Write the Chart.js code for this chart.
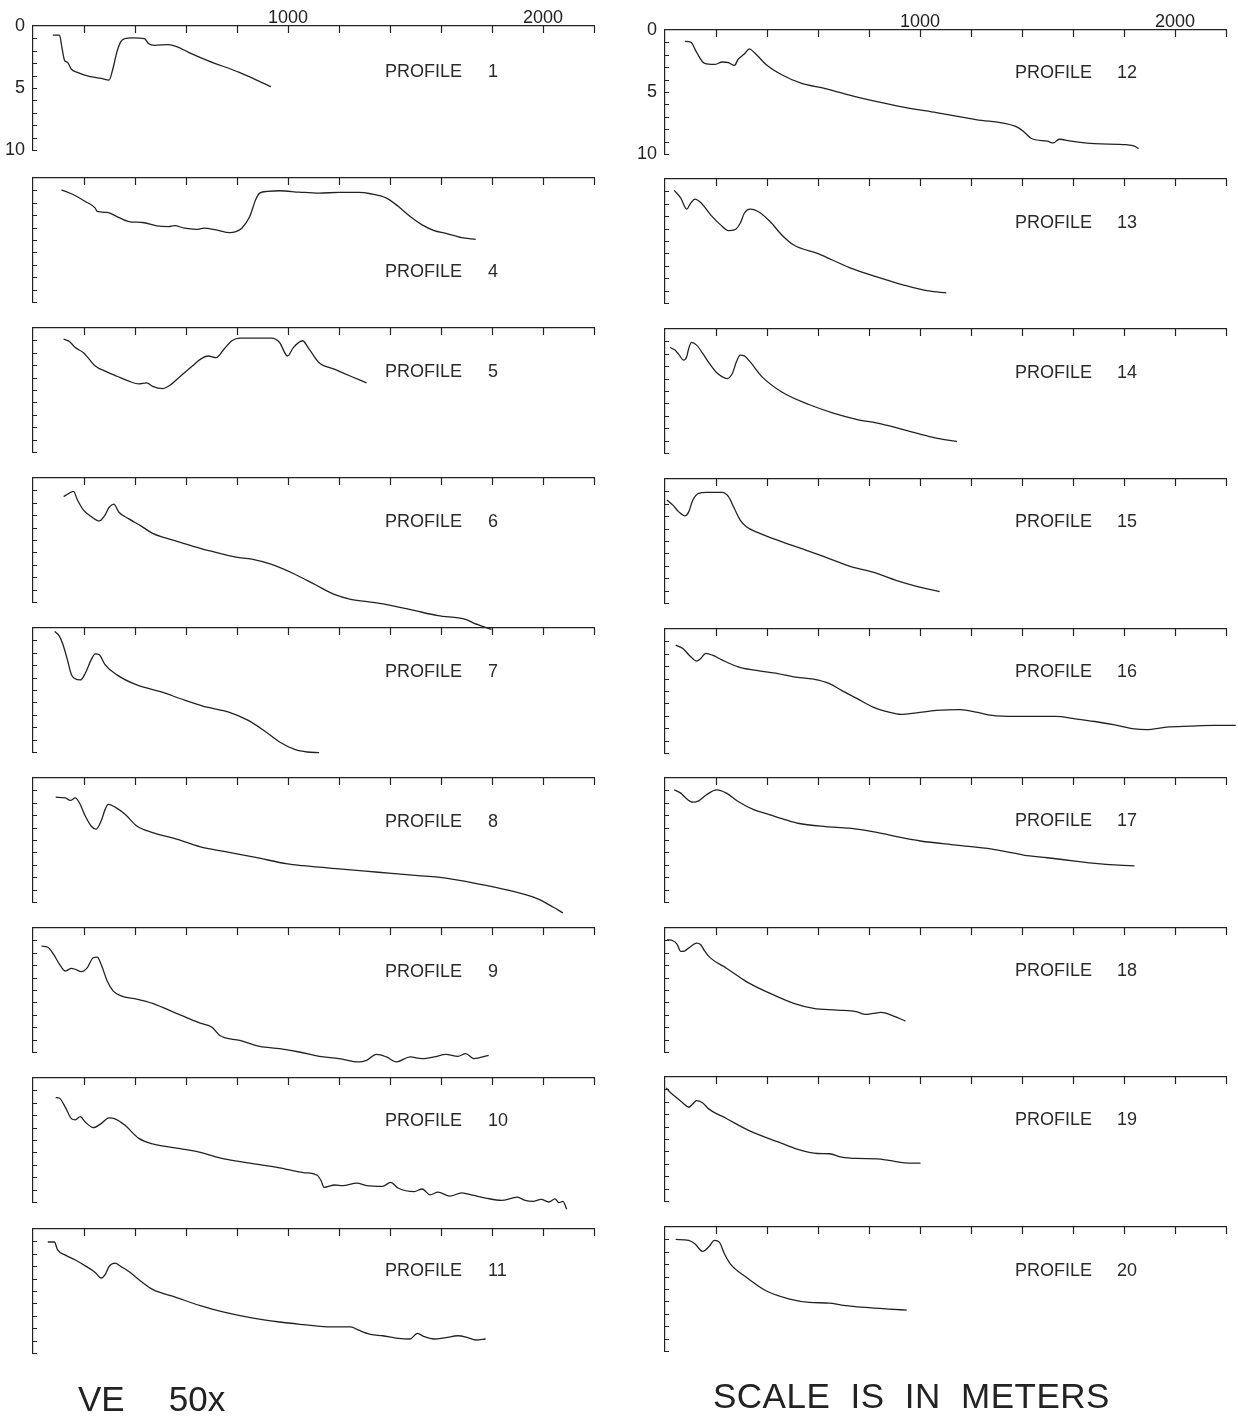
<!DOCTYPE html>
<html><head><meta charset="utf-8">
<script src="https://cdn.jsdelivr.net/npm/chart.js@4.4.1/dist/chart.umd.min.js"></script>
<style>
html,body{margin:0;padding:0;background:#fff;}
#page{position:relative;width:1238px;height:1421px;overflow:hidden;background:#fff;}
#page canvas{position:absolute;}
.lbl{position:absolute;font-family:"Liberation Sans",Arial,sans-serif;font-size:18px;color:#2a2a2a;line-height:18px;white-space:nowrap;z-index:2;}
.foot{position:absolute;font-family:"Liberation Sans",Arial,sans-serif;font-size:35px;color:#222;line-height:35px;white-space:nowrap;z-index:2;}
</style></head><body><div id="page"></div>
<script>
// ---- data: distance along profile (m) and depth (m) ----
const xTicks = [1000, 2000];
const yTicks = [0, 5, 10];
const p1_dist = [78,104,112,124,135,150,174,220,267,298,313,329,344,360,391,437,453,476,530,561,608,685,809,933];
const p1_depth = [0.74,0.74,1.56,2.79,2.92,3.47,3.74,4.07,4.23,4.37,3.47,2.10,1.28,1.01,0.96,1.01,1.42,1.56,1.50,1.64,2.10,2.79,3.74,4.89];
const p4_dist = [112,159,205,244,252,291,329,376,430,485,531,555,594,640,671,718,772,796,819,850,873,889,920,967,1044,1122,1200,1277,1324,1386,1433,1479,1526,1573,1619,1681,1736];
const p4_depth = [0.95,1.35,1.89,2.43,2.70,2.78,3.11,3.51,3.59,3.86,3.92,3.84,4.05,4.14,4.05,4.19,4.41,4.32,4.05,3.11,1.76,1.22,1.08,1.03,1.14,1.22,1.16,1.16,1.27,1.62,2.30,3.11,3.78,4.24,4.46,4.81,4.95];
const p5_dist = [120,143,166,197,221,244,283,329,376,415,446,469,508,531,578,625,656,687,718,749,780,811,889,936,967,998,1021,1057,1083,1122,1184,1246,1308];
const p5_depth = [0.90,1.09,1.58,1.98,2.53,3.07,3.48,3.89,4.29,4.51,4.43,4.70,4.89,4.70,3.89,3.07,2.53,2.26,2.39,1.71,1.03,0.82,0.82,0.82,1.17,2.26,1.58,1.03,1.71,2.80,3.34,3.89,4.43];
const p6_dist = [120,143,159,174,197,228,260,283,298,317,337,376,423,469,516,578,656,733,796,858,936,1029,1106,1184,1246,1340,1402,1464,1495,1588,1697,1728,1798];
const p6_depth = [1.49,1.22,1.08,1.76,2.57,3.11,3.46,2.97,2.38,2.11,2.76,3.30,3.86,4.46,4.81,5.19,5.68,6.08,6.38,6.54,6.97,7.78,8.59,9.41,9.78,10.05,10.27,10.54,10.68,11.10,11.40,11.70,12.20];
const p7_dist = [85,104,120,135,151,162,186,205,228,244,260,283,329,407,500,594,687,765,842,904,967,1029,1075,1122];
const p7_depth = [0.27,0.68,1.49,2.57,3.78,4.05,4.19,3.65,2.57,2.08,2.16,2.97,3.78,4.59,5.14,5.81,6.41,6.76,7.43,8.24,9.19,9.81,10.00,10.05];
const p8_dist = [89,127,146,166,182,205,228,247,267,283,295,322,361,407,469,563,656,749,873,998,1060,1200,1355,1510,1588,1744,1868,1977,2039,2078];
const p8_depth = [1.55,1.60,1.81,1.60,2.00,3.07,3.87,4.13,3.47,2.53,2.13,2.35,2.93,3.87,4.40,4.93,5.55,5.92,6.40,6.93,7.07,7.33,7.60,7.87,8.00,8.53,9.07,9.73,10.40,10.88];
const p9_dist = [34,58,81,104,127,151,166,190,213,236,252,267,291,314,345,407,469,531,594,656,702,733,811,889,967,1044,1122,1200,1277,1308,1347,1386,1425,1479,1526,1573,1619,1666,1697,1728,1787];
const p9_depth = [1.47,1.55,2.13,2.93,3.47,3.25,3.33,3.52,3.20,2.40,2.35,2.93,4.27,5.07,5.47,5.73,6.08,6.61,7.15,7.68,8.00,8.67,9.07,9.55,9.73,10.00,10.35,10.53,10.80,10.67,10.19,10.40,10.80,10.40,10.53,10.40,10.19,10.35,10.13,10.53,10.27];
const p10_dist = [89,104,127,151,166,185,205,236,267,298,322,361,415,469,563,656,749,842,967,1060,1114,1130,1141,1184,1215,1270,1308,1371,1402,1433,1495,1526,1557,1588,1635,1681,1728,1775,1837,1899,1930,1961,1992,2023,2047,2062,2078,2093];
const p10_depth = [1.58,1.63,2.37,3.29,3.37,3.11,3.55,4.00,3.68,3.21,3.29,3.82,4.87,5.32,5.66,6.00,6.53,6.84,7.24,7.63,7.84,8.29,8.82,8.63,8.68,8.47,8.68,8.74,8.42,8.89,9.16,8.95,9.42,9.21,9.53,9.26,9.47,9.68,9.87,9.61,9.87,9.95,9.79,10.00,9.74,10.05,9.95,10.58];
const p11_dist = [58,84,96,127,166,205,244,267,283,298,322,345,376,423,469,563,656,749,842,967,1060,1153,1246,1277,1324,1371,1433,1479,1507,1534,1573,1619,1666,1705,1736,1775];
const p11_depth = [1.05,1.05,1.66,2.11,2.50,2.97,3.50,3.95,3.68,3.03,2.76,3.03,3.42,4.21,4.87,5.53,6.18,6.71,7.11,7.50,7.71,7.89,7.89,8.16,8.50,8.61,8.82,8.87,8.42,8.68,8.87,8.76,8.61,8.76,8.95,8.87];
const p12_dist = [78,101,124,155,194,225,249,272,287,311,331,350,396,458,536,629,754,909,1064,1220,1375,1406,1437,1500,1523,1546,1593,1686,1810,1841,1857];
const p12_depth = [0.92,0.97,1.81,2.69,2.78,2.58,2.64,2.86,2.36,1.94,1.53,1.81,2.78,3.61,4.31,4.72,5.42,6.11,6.67,7.22,7.78,8.19,8.75,8.97,9.11,8.81,8.97,9.17,9.25,9.36,9.58];
const p13_dist = [36,62,85,101,117,140,179,218,249,272,295,311,334,365,412,458,505,598,723,831,940,1033,1103];
const p13_depth = [0.92,1.54,2.43,1.95,1.62,1.89,2.89,3.70,4.16,4.11,3.57,2.76,2.43,2.62,3.43,4.51,5.32,6.00,7.14,7.89,8.57,9.03,9.19];
const p14_dist = [20,39,54,73,85,93,104,124,148,179,202,225,244,264,280,295,311,334,381,458,567,660,754,847,971,1033,1096,1145];
const p14_depth = [1.49,1.70,2.05,2.51,2.24,1.57,1.08,1.30,1.97,2.92,3.51,3.86,4.00,3.59,2.65,2.11,2.16,2.65,3.86,5.08,6.11,6.78,7.30,7.65,8.32,8.65,8.92,9.08];
const p15_dist = [8,31,54,78,93,109,132,163,225,249,272,295,319,365,443,536,629,723,816,909,987,1077];
const p15_depth = [1.70,2.11,2.65,2.97,2.65,1.70,1.16,1.08,1.08,1.43,2.38,3.32,3.86,4.32,4.95,5.62,6.30,7.03,7.51,8.19,8.65,9.08];
const p16_dist = [42,70,101,124,140,160,186,225,287,350,443,505,583,645,692,754,816,878,925,987,1064,1158,1220,1282,1375,1531,1608,1686,1764,1841,1888,1966,2059,2152,2238];
const p16_depth = [1.30,1.57,2.24,2.59,2.38,1.97,2.11,2.51,3.05,3.32,3.59,3.86,4.05,4.41,4.95,5.62,6.30,6.70,6.89,6.76,6.57,6.51,6.70,6.97,7.05,7.05,7.24,7.46,7.73,8.05,8.11,7.92,7.84,7.78,7.78];
const p17_dist = [36,62,85,109,132,163,202,241,287,350,412,474,521,629,723,831,909,1002,1142,1282,1375,1406,1500,1608,1686,1779,1841];
const p17_depth = [0.95,1.22,1.68,1.95,1.84,1.35,0.95,1.22,1.89,2.57,2.97,3.38,3.65,3.92,4.05,4.38,4.73,5.08,5.41,5.73,6.08,6.22,6.43,6.70,6.89,7.03,7.08];
const p18_dist = [8,31,47,62,78,101,124,140,155,179,241,319,412,505,583,676,754,785,816,847,894,943];
const p18_depth = [0.95,1.03,1.30,1.89,1.84,1.49,1.22,1.35,1.84,2.43,3.24,4.32,5.27,6.08,6.49,6.62,6.76,6.97,6.89,6.81,7.08,7.51];
const p19_dist = [5,16,39,70,93,109,124,148,171,241,334,443,521,598,645,692,754,831,878,940,1002];
const p19_depth = [0.88,1.15,1.55,2.09,2.44,2.17,1.90,2.09,2.57,3.35,4.37,5.23,5.84,6.17,6.19,6.46,6.57,6.60,6.73,6.92,6.94];
const p20_dist = [42,93,117,148,171,194,213,233,256,319,396,489,567,645,692,785,878,948];
const p20_depth = [1.00,1.08,1.35,1.97,1.62,1.08,1.22,2.16,2.97,4.05,5.14,5.81,6.08,6.14,6.30,6.49,6.62,6.70];

// ---- layout ----
const X_MAX = 2200, Y_MAX = 10;
const COLS = [{x0: 33, w: 561, lblX: 385}, {x0: 665, w: 561, lblX: 1015}];
const ROW_TOPS = [[26,178,328,478,628,778,928,1078,1229],[30,179,329,479,629,778,928,1077,1227]];
const PANEL_H = 124;
const AX_W = 40, AX_H = 30;           // room reserved for the tick labels
const PAD = {left: 0, top: 0, right: 22, bottom: 48};

const panels = [
  {name:'1', d:p1_dist, z:p1_depth, col:0, row:0, ly:45},
  {name:'4', d:p4_dist, z:p4_depth, col:0, row:1, ly:93},
  {name:'5', d:p5_dist, z:p5_depth, col:0, row:2, ly:43},
  {name:'6', d:p6_dist, z:p6_depth, col:0, row:3, ly:43},
  {name:'7', d:p7_dist, z:p7_depth, col:0, row:4, ly:43},
  {name:'8', d:p8_dist, z:p8_depth, col:0, row:5, ly:43},
  {name:'9', d:p9_dist, z:p9_depth, col:0, row:6, ly:43},
  {name:'10', d:p10_dist, z:p10_depth, col:0, row:7, ly:42},
  {name:'11', d:p11_dist, z:p11_depth, col:0, row:8, ly:41},
  {name:'12', d:p12_dist, z:p12_depth, col:1, row:0, ly:42},
  {name:'13', d:p13_dist, z:p13_depth, col:1, row:1, ly:43},
  {name:'14', d:p14_dist, z:p14_depth, col:1, row:2, ly:43},
  {name:'15', d:p15_dist, z:p15_depth, col:1, row:3, ly:42},
  {name:'16', d:p16_dist, z:p16_depth, col:1, row:4, ly:42},
  {name:'17', d:p17_dist, z:p17_depth, col:1, row:5, ly:42},
  {name:'18', d:p18_dist, z:p18_depth, col:1, row:6, ly:42},
  {name:'19', d:p19_dist, z:p19_depth, col:1, row:7, ly:42},
  {name:'20', d:p20_dist, z:p20_depth, col:1, row:8, ly:43}
];

const INK = '#222';
const inwardTicks = {
  id: 'inwardTicks',
  afterDatasetsDraw(chart) {
    const {ctx, chartArea: a} = chart;
    const xs = chart.scales.x, ys = chart.scales.y;
    ctx.save();
    ctx.strokeStyle = INK; ctx.lineWidth = 1.2;
    ctx.beginPath();
    xs.ticks.forEach(t => {
      if (t.value === 0) return;
      const px = Math.round(xs.getPixelForValue(t.value)) + 0.5;
      ctx.moveTo(px, a.top); ctx.lineTo(px, a.top + 7);
    });
    ys.ticks.forEach(t => {
      if (t.value === 0) return;
      const py = Math.round(ys.getPixelForValue(t.value)) + 0.5;
      ctx.moveTo(a.left, py); ctx.lineTo(a.left + 4, py);
    });
    ctx.stroke();
    ctx.restore();
  }
};

Chart.defaults.font.family = '"Liberation Sans", Arial, sans-serif';
const page = document.getElementById('page');

panels.forEach(p => {
  const col = COLS[p.col];
  const top = ROW_TOPS[p.col][p.row];
  const W = AX_W + col.w + PAD.right;
  const H = AX_H + PANEL_H + PAD.bottom;
  const cv = document.createElement('canvas');
  cv.width = W; cv.height = H;
  cv.style.left = (col.x0 - AX_W) + 'px';
  cv.style.top = (top - AX_H) + 'px';
  cv.style.width = W + 'px'; cv.style.height = H + 'px';
  page.appendChild(cv);
  const showLabels = p.row === 0;
  new Chart(cv, {
    type: 'line',
    data: { datasets: [{
      data: p.d.map((v, i) => ({x: v, y: p.z[i]})),
      borderColor: INK, borderWidth: 1.3, pointRadius: 0,
      cubicInterpolationMode: 'monotone', tension: 0.4, fill: false, clip: false
    }]},
    options: {
      responsive: false, animation: false, devicePixelRatio: 1,
      layout: { padding: PAD },
      plugins: { legend: {display: false}, tooltip: {enabled: false}, title: {display: false} },
      events: [],
      scales: {
        x: {
          type: 'linear', position: 'top', min: 0, max: X_MAX,
          afterFit: s => { s.height = AX_H; },
          grid: { display: true, drawOnChartArea: false, drawTicks: false },
          border: { display: true, color: INK, width: 1.2 },
          ticks: {
            display: showLabels, stepSize: 200, autoSkip: false, maxRotation: 0, padding: -3,
            color: INK, font: {size: 18},
            callback: v => xTicks.includes(v) ? String(v) : ''
          }
        },
        y: {
          type: 'linear', position: 'left', min: 0, max: Y_MAX, reverse: true,
          afterFit: s => { s.width = AX_W; },
          grid: { display: true, drawOnChartArea: false, drawTicks: false },
          border: { display: true, color: INK, width: 1.2 },
          ticks: {
            display: showLabels, stepSize: 1, autoSkip: false, padding: 8,
            color: INK, font: {size: 18},
            callback: v => yTicks.includes(v) ? String(v) : ''
          }
        }
      }
    },
    plugins: [inwardTicks]
  });
  const lbl = document.createElement('div');
  lbl.className = 'lbl';
  lbl.style.left = col.lblX + 'px';
  lbl.style.top = (top + p.ly - 9) + 'px';
  lbl.textContent = 'PROFILE';
  page.appendChild(lbl);
  const num = document.createElement('div');
  num.className = 'lbl';
  num.style.left = (col.lblX + (p.col === 0 ? 103 : 102)) + 'px';
  num.style.top = (top + p.ly - 9) + 'px';
  num.textContent = p.name;
  page.appendChild(num);
});

const f1 = document.createElement('div');
f1.className = 'foot'; f1.style.left = '78px'; f1.style.top = '1381px';
f1.innerHTML = 'VE<span style="margin-left:44px">50x</span>';
page.appendChild(f1);
const f2 = document.createElement('div');
f2.className = 'foot'; f2.style.left = '713px'; f2.style.top = '1378px';
f2.style.letterSpacing = '0.5px'; f2.style.wordSpacing = '10px';
f2.textContent = 'SCALE IS IN METERS';
page.appendChild(f2);
</script>
</body></html>
